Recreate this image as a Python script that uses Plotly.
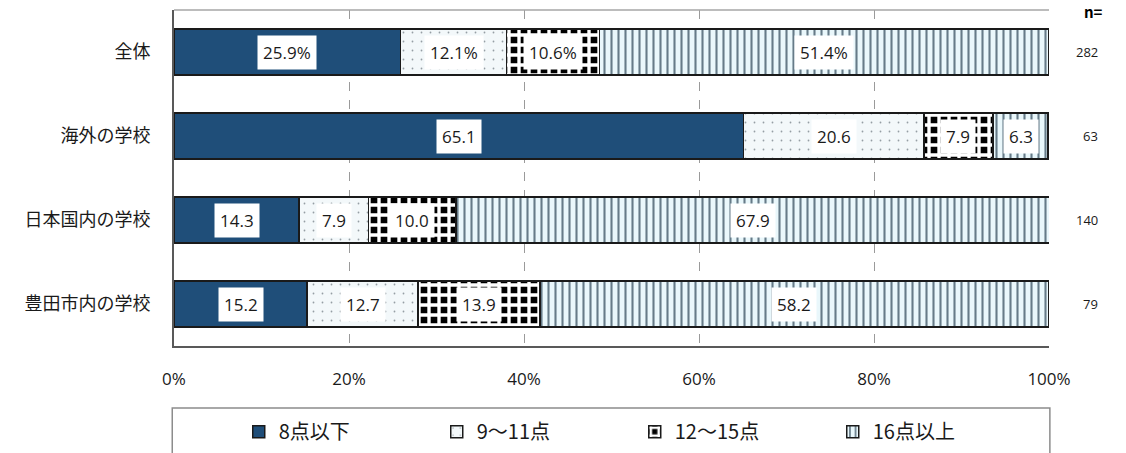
import plotly.graph_objects as go

categories = ["全体", "海外の学校", "日本国内の学校", "豊田市内の学校"]
series_names = ["8点以下", "9～11点", "12～15点", "16点以上"]
v_8 = [25.9, 65.1, 14.3, 15.2]
v_9_11 = [12.1, 20.6, 7.9, 12.7]
v_12_15 = [10.6, 7.9, 10.0, 13.9]
v_16 = [51.4, 6.3, 67.9, 58.2]
n_values = [282, 63, 140, 79]
x_ticks = [0, 20, 40, 60, 80, 100]
x_ticklabels = ["0%", "20%", "40%", "60%", "80%", "100%"]

series = [v_8, v_9_11, v_12_15, v_16]
styles = [
    dict(color="#1f4e79", pattern=None),
    dict(color="#f3f8fa", pattern=dict(shape=".", fgcolor="#959ea4", bgcolor="#f3f8fa", size=9,
                                       solidity=0.03, fgopacity=1)),
    dict(color="#000000", pattern=dict(shape="+", fgcolor="#ffffff", bgcolor="#000000", size=10,
                                       solidity=0.56, fgopacity=1)),
    dict(color="#e9f7fb", pattern=dict(shape="|", fgcolor="#667b88", bgcolor="#e9f7fb", size=7,
                                       solidity=0.3, fgopacity=1)),
]

FONT = "Noto Sans CJK JP"
NUMFONT = "Open Sans"
fig = go.Figure()
for name, vals, st in zip(series_names, series, styles):
    marker = dict(color=st["color"], line=dict(color="#1a1a1a", width=1.5))
    if st["pattern"]:
        marker["pattern"] = st["pattern"]
    fig.add_trace(go.Bar(
        y=categories, x=vals, name=name, orientation="h",
        marker=marker, hoverinfo="skip",
    ))

# data labels
annotations = []
for i, cat in enumerate(categories):
    start = 0.0
    for s_idx, vals in enumerate(series):
        v = vals[i]
        label = f"{v:.1f}%" if i == 0 else f"{v:.1f}"
        annotations.append(dict(
            x=start + v / 2, y=cat, xref="x", yref="y", text=label,
            showarrow=False, bgcolor="#ffffff", borderpad=5,
            font=dict(family=NUMFONT, size=17, color="#1a1a1a"),
        ))
        start += v
    annotations.append(dict(
        x=1.058, y=cat, xref="paper", yref="y", text=str(n_values[i]),
        showarrow=False, font=dict(family=NUMFONT, size=13, color="#1a1a1a"),
    ))
annotations.append(dict(
    x=1.064, y=1.0, xref="paper", yref="paper", text="<b>n=</b>",
    showarrow=False, yanchor="middle", yshift=-1,
    font=dict(family=FONT, size=15, color="#000000"),
))

fig.update_layout(
    width=1126, height=453,
    margin=dict(l=174, r=77, t=10, b=107, autoexpand=False),
    barmode="stack", bargap=0.45,
    plot_bgcolor="#ffffff", paper_bgcolor="#ffffff",
    font=dict(family=FONT, color="#1a1a1a"),
    annotations=annotations,
    showlegend=True,
    legend=dict(
        orientation="h", x=0.074, xanchor="left", y=-0.255, yanchor="middle",
        font=dict(family=FONT, size=20, color="#1a1a1a"),
        entrywidth=153, entrywidthmode="pixels", traceorder="normal",
        bgcolor="rgba(0,0,0,0)",
    ),
    shapes=[
        dict(type="line", xref="paper", yref="paper", x0=0, x1=1, y0=1, y1=1,
             line=dict(color="#a6a6a6", width=1.5)),
        dict(type="rect", xref="paper", yref="paper", x0=-0.002, x1=1.001,
             y0=-0.45, y1=-0.1845, line=dict(color="#8c8c8c", width=1.5),
             fillcolor="rgba(0,0,0,0)"),
    ],
)
fig.update_xaxes(
    range=[0, 100], tickvals=x_ticks, ticktext=x_ticklabels,
    showgrid=True, gridcolor="#9a9a9a", griddash="dash", gridwidth=1,
    showline=True, linecolor="#595959", linewidth=2, zeroline=False,
    ticks="", ticklabelstandoff=17, automargin=False,
    tickfont=dict(family=NUMFONT, size=17, color="#1a1a1a"),
)
fig.update_yaxes(
    autorange="reversed", showline=True, linecolor="#595959", linewidth=2,
    ticks="", ticklabelstandoff=18, showgrid=False, automargin=False,
    tickfont=dict(family=FONT, size=18, color="#1a1a1a"),
)

fig.write_html(
    "out.html",
    config={"displayModeBar": False},
    post_script="document.body.style.margin='0';document.body.style.overflow='hidden';",
)
